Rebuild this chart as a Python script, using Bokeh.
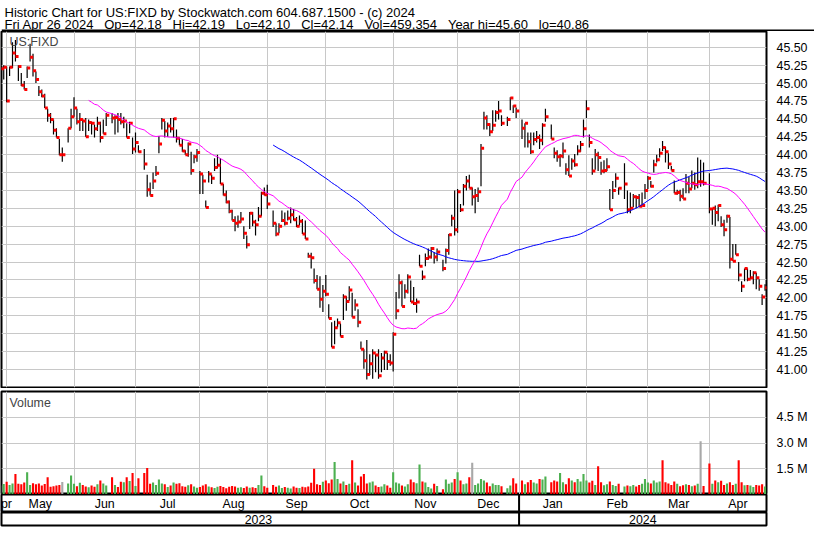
import numpy as np
import pandas as pd
from bokeh.plotting import figure
from bokeh.layouts import column
from bokeh.models import (Range1d, FixedTicker, Span, ColumnDataSource, Label,
                          PrintfTickFormatter, CustomJSTickFormatter)
from bokeh.core.properties import value
from bokeh.transform import dodge
from bokeh.embed import file_html
from bokeh.resources import INLINE

# ---------------------------------------------------------------- data
symbol = "US:FIXD"
axis_origin = "2023-04-26"
first_day = "2023-04-27"
last_day = "2024-04-26"
last_open = 42.18
market_holidays = ["2023-05-29", "2023-06-19", "2023-07-04", "2023-09-04",
                   "2023-11-23", "2023-12-25", "2024-01-01", "2024-01-15",
                   "2024-02-19", "2024-03-29"]

high_apr23 = [45.30, 45.25]
low_apr23 = [45.10, 45.05]
close_apr23 = [45.20, 45.22]

high_may23 = [45.23, 45.23, 45.57, 45.60, 45.25, 45.14, 45.03, 45.23, 45.55, 45.41, 45.16,
              44.96, 44.91, 44.85, 44.64, 44.58, 44.49, 44.37, 44.22, 44.10, 44.37, 44.64]
low_may23 = [44.73, 45.10, 45.21, 45.30, 45.03, 44.96, 44.91, 45.07, 45.30, 45.09, 45.00,
             44.82, 44.80, 44.65, 44.46, 44.44, 44.28, 44.24, 43.99, 43.90, 44.17, 44.37]
close_may23 = [44.75, 45.22, 45.42, 45.37, 45.23, 44.97, 44.91, 45.21, 45.36, 45.17, 45.05,
               44.88, 44.82, 44.65, 44.55, 44.49, 44.34, 44.24, 44.00, 44.00, 44.37, 44.53]

high_jun23 = [44.80, 44.64, 44.58, 44.49, 44.51, 44.49, 44.46, 44.42, 44.53, 44.46, 44.49,
              44.58, 44.58, 44.55, 44.58, 44.58, 44.53, 44.44, 44.46, 44.24, 44.31]
low_jun23 = [44.53, 44.42, 44.33, 44.33, 44.25, 44.33, 44.28, 44.24, 44.33, 44.17, 44.29,
             44.40, 44.44, 44.28, 44.31, 44.42, 44.37, 44.24, 44.30, 44.01, 44.03]
close_jun23 = [44.65, 44.46, 44.49, 44.47, 44.25, 44.45, 44.44, 44.36, 44.44, 44.24, 44.29,
               44.55, 44.51, 44.52, 44.49, 44.46, 44.47, 44.24, 44.44, 44.08, 44.17]

high_jul23 = [44.13, 44.08, 43.72, 43.61, 43.75, 43.84, 44.26, 44.51, 44.47, 44.45,
              44.51, 44.51, 44.35, 44.24, 44.22, 44.06, 44.17, 44.04, 44.00, 44.08]
low_jul23 = [44.03, 43.79, 43.41, 43.43, 43.52, 43.70, 44.02, 44.35, 44.24, 44.25,
             44.31, 44.24, 44.17, 44.13, 44.04, 44.00, 43.97, 43.72, 43.88, 43.90]
close_jul23 = [44.04, 43.87, 43.51, 43.43, 43.63, 43.74, 44.15, 44.48, 44.33, 44.40,
               44.36, 44.50, 44.23, 44.13, 44.05, 44.00, 44.15, 43.78, 43.97, 44.03]

high_aug23 = [43.77, 43.72, 43.36, 43.77, 43.72, 43.95, 44.00, 43.95, 43.59, 43.50, 43.36, 43.23,
              43.14, 43.15, 43.20, 43.00, 42.87, 43.20, 43.20, 43.09, 43.27, 43.48, 43.54]
low_aug23 = [43.45, 43.45, 43.26, 43.61, 43.59, 43.77, 43.81, 43.59, 43.43, 43.32, 43.18, 43.08,
             42.93, 42.98, 43.05, 42.82, 42.69, 42.96, 43.00, 42.87, 43.07, 43.14, 43.43]
close_aug23 = [43.73, 43.63, 43.26, 43.73, 43.67, 43.82, 43.85, 43.59, 43.44, 43.34, 43.21, 43.08,
               43.04, 43.06, 43.10, 42.90, 42.74, 43.18, 43.06, 43.02, 43.14, 43.46, 43.44]

high_sep23 = [43.58, 43.22, 43.04, 43.04, 43.22, 43.19, 43.22, 43.26, 43.24, 43.13,
              43.15, 43.10, 43.08, 42.63, 42.63, 42.41, 42.32, 42.30, 42.18, 42.32]
low_sep23 = [43.24, 42.99, 42.86, 42.90, 43.06, 43.01, 43.08, 43.04, 43.08, 42.99,
             43.01, 42.89, 42.82, 42.56, 42.41, 42.20, 42.12, 41.86, 41.80, 42.02]
close_sep23 = [43.31, 43.04, 42.89, 43.00, 43.08, 43.04, 43.11, 43.16, 43.09, 43.00,
               43.07, 42.89, 42.82, 42.58, 42.56, 42.24, 42.12, 41.98, 42.09, 42.05]

high_oct23 = [41.91, 41.66, 41.68, 41.71, 41.64, 42.05, 42.02, 42.16, 42.07, 41.98, 41.84,
              41.39, 41.28, 41.41, 41.21, 41.28, 41.21, 41.28, 41.23, 41.26, 41.23, 41.21]
low_oct23 = [41.71, 41.31, 41.35, 41.59, 41.46, 41.69, 41.82, 41.96, 41.73, 41.82, 41.59,
             41.28, 41.01, 40.86, 40.92, 40.87, 40.96, 40.87, 40.96, 40.99, 40.99, 41.05]
close_oct23 = [41.71, 41.31, 41.58, 41.65, 41.46, 42.01, 41.95, 42.11, 41.73, 41.90, 41.66,
               41.28, 41.12, 40.93, 41.08, 41.23, 41.20, 40.91, 41.16, 41.24, 41.11, 41.09]

high_nov23 = [41.52, 42.08, 42.33, 42.24, 42.19, 42.33, 42.24, 42.15, 41.99, 42.60, 42.38,
              42.62, 42.69, 42.71, 42.64, 42.69, 42.53, 42.69, 42.89, 43.16, 43.50]
low_nov23 = [40.97, 41.70, 41.99, 41.88, 41.99, 42.06, 41.94, 41.90, 41.79, 42.44, 42.25,
             42.44, 42.53, 42.55, 42.48, 42.51, 42.37, 42.48, 42.60, 43.00, 42.87]
close_nov23 = [41.49, 41.82, 42.21, 41.88, 42.09, 42.29, 41.94, 41.92, 41.94, 42.44, 42.29,
               42.55, 42.57, 42.69, 42.57, 42.64, 42.41, 42.66, 42.88, 43.11, 42.95]

high_dec23 = [43.52, 43.31, 43.59, 43.70, 43.72, 43.54, 43.52, 43.54, 44.15, 44.60,
              44.55, 44.44, 44.62, 44.62, 44.75, 44.55, 44.53, 44.80, 44.69, 44.66]
low_dec23 = [42.91, 43.20, 43.29, 43.50, 43.53, 43.29, 43.18, 43.34, 43.56, 44.35,
             44.35, 44.26, 44.33, 44.46, 44.49, 44.40, 44.40, 44.62, 44.58, 44.51]
close_dec23 = [43.48, 43.23, 43.56, 43.63, 43.53, 43.41, 43.43, 43.48, 44.09, 44.51,
               44.42, 44.32, 44.41, 44.59, 44.61, 44.44, 44.49, 44.79, 44.68, 44.61]

high_jan24 = [44.49, 44.44, 44.31, 44.31, 44.31, 44.33, 44.28, 44.44, 44.64, 44.42, 44.10,
              44.06, 44.01, 44.17, 43.88, 43.99, 43.95, 44.01, 44.13, 44.19, 44.49]
low_jan24 = [44.22, 44.10, 44.10, 44.01, 44.13, 44.17, 44.08, 44.13, 44.46, 44.22, 43.95,
             43.90, 43.83, 43.95, 43.72, 43.70, 43.79, 43.83, 43.99, 44.04, 44.24]
close_jan24 = [44.37, 44.44, 44.18, 44.04, 44.21, 44.24, 44.20, 44.41, 44.53, 44.22, 44.02,
               43.97, 43.98, 44.05, 43.79, 43.70, 43.91, 43.86, 44.05, 44.14, 44.36]

high_feb24 = [44.76, 44.28, 43.95, 44.08, 44.04, 43.90, 43.92, 43.95, 43.52, 43.63,
              43.74, 43.54, 43.88, 43.50, 43.47, 43.45, 43.43, 43.45, 43.47, 43.59]
low_feb24 = [44.51, 44.10, 43.72, 43.79, 43.77, 43.72, 43.74, 43.77, 43.23, 43.38,
             43.54, 43.44, 43.38, 43.18, 43.18, 43.27, 43.25, 43.27, 43.29, 43.38]
close_feb24 = [44.64, 44.17, 43.77, 44.00, 43.96, 43.77, 43.78, 43.83, 43.23, 43.50,
               43.67, 43.53, 43.59, 43.23, 43.25, 43.41, 43.40, 43.28, 43.29, 43.50]

high_mar24 = [43.70, 43.63, 43.93, 44.00, 44.09, 44.19, 44.11, 44.02, 43.84, 43.64,
              43.51, 43.51, 43.53, 43.73, 43.69, 43.78, 43.75, 43.96, 43.93, 43.89]
low_mar24 = [43.52, 43.54, 43.75, 43.89, 43.96, 44.05, 43.89, 43.80, 43.78, 43.46,
             43.44, 43.35, 43.38, 43.46, 43.46, 43.53, 43.51, 43.53, 43.55, 43.57]
close_mar24 = [43.67, 43.56, 43.86, 43.93, 44.02, 44.10, 44.04, 43.87, 43.78, 43.46,
               43.47, 43.42, 43.38, 43.60, 43.52, 43.60, 43.58, 43.62, 43.62, 43.60]

high_apr24 = [43.74, 43.25, 43.29, 43.30, 43.14, 43.09, 43.16, 43.13, 42.75, 42.75,
              42.50, 42.23, 42.41, 42.41, 42.39, 42.37, 42.35, 42.26, 42.05, 42.19]
low_apr24 = [43.18, 43.02, 43.00, 43.07, 42.99, 42.86, 43.05, 42.41, 42.51, 42.60,
             42.23, 42.08, 42.23, 42.23, 42.26, 42.19, 42.12, 42.10, 41.90, 42.10]
close_apr24 = [43.24, 43.25, 43.19, 43.29, 43.02, 42.95, 43.14, 42.54, 42.51, 42.60,
               42.32, 42.16, 42.41, 42.26, 42.28, 42.35, 42.28, 42.16, 42.01, 42.14]

# volume, thousands of shares
vol_apr23 = [520, 610]
vol_may23 = [750, 560, 640, 1200, 620, 590, 700, 1300, 560, 650, 600, 640, 520, 610, 1000,
             450, 480, 520, 560, 730, 640, 1100]
vol_jun23 = [620, 480, 690, 560, 470, 420, 530, 450, 600, 810, 640, 520, 1000, 560, 440,
             750, 720, 1000, 780, 1250, 500]
vol_jul23 = [950, 1250, 1550, 620, 700, 560, 880, 640, 590, 430, 520, 700, 620, 650, 480,
             450, 540, 600, 470, 390]
vol_aug23 = [440, 520, 600, 460, 420, 380, 450, 500, 430, 360, 450, 500, 470, 400, 420,
             380, 460, 390, 420, 380, 550, 1100, 480]
vol_sep23 = [400, 560, 450, 520, 380, 430, 400, 350, 470, 400, 380, 450, 420, 460, 680,
             1500, 600, 560, 740, 820]
vol_oct23 = [650, 880, 1900, 900, 640, 760, 560, 620, 2000, 700, 520, 1050, 1200, 640, 700,
             760, 520, 430, 460, 600, 520, 400]
vol_nov23 = [1300, 700, 640, 520, 460, 600, 880, 720, 650, 1750, 760, 700, 440, 350, 620,
             500, 300, 880, 620, 700, 900]
vol_dec23 = [1300, 820, 600, 640, 1000, 1850, 560, 640, 900, 820, 700, 480, 640, 560, 560,
             480, 360, 520, 950, 640]
vol_jan24 = [820, 600, 720, 840, 700, 640, 900, 880, 1050, 720, 820, 760, 1250, 720, 600,
             940, 820, 720, 900, 760, 1200]
vol_feb24 = [820, 700, 800, 560, 1650, 720, 540, 600, 760, 560, 500, 620, 460, 520, 480,
             560, 460, 560, 620, 900]
vol_mar24 = [700, 640, 820, 700, 760, 2000, 720, 640, 560, 760, 620, 480, 540, 600, 560,
             480, 520, 620, 3100, 500]
vol_apr24 = [1800, 620, 820, 720, 800, 560, 640, 720, 560, 620, 2000, 720, 540, 560, 520,
             440, 560, 520, 600, 459.354]

volume_color_exceptions = {"2023-12-08": "flat", "2024-03-08": "down"}

month_names = ["Apr", "May", "Jun", "Jul", "Aug", "Sep", "Oct", "Nov", "Dec",
               "Jan", "Feb", "Mar", "Apr"]
year_names = ["2023", "2024"]
price_ticks = [41.00, 41.25, 41.50, 41.75, 42.00, 42.25, 42.50, 42.75, 43.00, 43.25,
               43.50, 43.75, 44.00, 44.25, 44.50, 44.75, 45.00, 45.25, 45.50]
volume_ticks = [1.5e6, 3.0e6, 4.5e6]
ma_short, ma_long = 30, 90

# ---------------------------------------------------------------- assemble
months = ["apr23", "may23", "jun23", "jul23", "aug23", "sep23", "oct23", "nov23",
          "dec23", "jan24", "feb24", "mar24", "apr24"]
g = globals()
highs = sum([g["high_" + m] for m in months], [])
lows = sum([g["low_" + m] for m in months], [])
closes = sum([g["close_" + m] for m in months], [])
volumes = [v * 1000 for v in sum([g["vol_" + m] for m in months], [])]

dates = pd.bdate_range(first_day, last_day, freq="C", holidays=market_holidays)
assert len(dates) == len(closes) == len(highs) == len(lows) == len(volumes)
day64 = dates.values.astype("datetime64[D]")
origin = np.datetime64(axis_origin)
slots = np.busday_count(origin, day64)

cser = pd.Series(closes)
ma1 = cser.rolling(ma_short).mean()
ma2 = cser.rolling(ma_long).mean()

prev = cser.shift(1)
direction = np.where(cser > prev, "up", np.where(cser < prev, "down", "flat"))
for d, k in volume_color_exceptions.items():
    direction[list(dates.strftime("%Y-%m-%d")).index(d)] = k
vol_palette = {"up": "#4cb050", "down": "#ff0000", "flat": "#a8a8a8"}
vol_colors = [vol_palette[k] for k in direction]

src = ColumnDataSource(dict(slot=slots, high=highs, low=lows, close=closes,
                            vol=volumes, vcol=vol_colors, ma1=ma1, ma2=ma2))

month_starts = pd.date_range("2023-05-01", "2024-04-01", freq="MS")
grid_slots = [int(np.busday_count(origin, np.busday_offset(
    m.to_datetime64().astype("datetime64[D]"), 0, roll="backward"))) for m in month_starts]
jan_slot = grid_slots[[m.month for m in month_starts].index(1)]

# ---------------------------------------------------------------- layout
VIEW_START, VIEW_END = 1.24, 262.5
FW, RB, LB = 765, 48, 1
FONT = "Liberation Sans"
GRID = "#c8c8c8"

xr = Range1d(VIEW_START, VIEW_END)


def panel(h, yr, top=0, bottom=0, yaxis=None):
    f = figure(frame_width=FW, frame_height=h, x_range=xr, y_range=yr,
               output_backend="svg", toolbar_location=None,
               x_axis_location=None, y_axis_location=yaxis,
               min_border_left=LB, min_border_right=RB,
               min_border_top=top, min_border_bottom=bottom)
    f.outline_line_color = "black"
    f.outline_line_width = 2
    f.outline_line_alpha = 1
    f.background_fill_color = "white"
    f.border_fill_color = "white"
    return f


def style_axis(ax):
    ax.axis_line_color = None
    ax.major_tick_line_color = None
    ax.minor_tick_line_color = None
    ax.major_label_standoff = 4
    ax.major_label_text_font = FONT
    ax.major_label_text_font_size = "12.4px"
    ax.major_label_text_color = "black"


# header
head = figure(frame_width=LB + FW + RB, frame_height=31, x_range=Range1d(0, LB + FW + RB),
              y_range=Range1d(0, 31), output_backend="svg", toolbar_location=None,
              x_axis_location=None, y_axis_location=None, min_border=0)
head.outline_line_color = None
head.xgrid.visible = False
head.ygrid.visible = False
title1 = "Historic Chart for %s by Stockwatch.com 604.687.1500 - (c) %d" % (symbol, dates[-1].year)
sp = "\u00a0\u00a0\u00a0"
title2 = sp.join([dates[-1].strftime("%a %b %d %Y"),
                  "Op=%.2f" % last_open, "Hi=%.2f" % highs[-1], "Lo=%.2f" % lows[-1],
                  "Cl=%.2f" % closes[-1], "Vol={:,}".format(int(round(volumes[-1]))),
                  "Year hi=%.2f" % max(highs), "lo=%.2f" % min(lows)])
for txt, yy in ((title1, 19.4), (title2, 7.0)):
    head.add_layout(Label(x=3, y=yy, text=txt, text_font=FONT, text_font_size="13px",
                          text_color="black", text_baseline="alphabetic"))
head.add_layout(Span(location=1, dimension="width", line_color="black", line_width=2))

# price panel
price = panel(356, Range1d(40.747, 45.72), top=0, bottom=1, yaxis="right")
price.yaxis.ticker = FixedTicker(ticks=price_ticks)
price.yaxis.formatter = PrintfTickFormatter(format="%.2f")
style_axis(price.yaxis[0])
price.ygrid.grid_line_color = GRID
price.xgrid.ticker = FixedTicker(ticks=grid_slots)
price.xgrid.grid_line_color = GRID
price.segment(x0="slot", y0="low", x1="slot", y1="high", source=src,
              line_color="black", line_width=1.2)
price.scatter(x=dodge("slot", 0.55, range=xr), y="close", source=src, marker="square",
              size=3, fill_color="#ff0000", line_color=None)
price.line("slot", "ma2", source=src, line_color="#0000ff", line_width=1)
price.line("slot", "ma1", source=src, line_color="#ff00ff", line_width=1)
price.add_layout(Label(x=VIEW_START, y=45.72, x_offset=8, y_offset=-3, text=symbol,
                       text_font=FONT, text_font_size="12.4px", text_baseline="top"))

# volume panel
vol = panel(103, Range1d(0, 6.0e6), top=3, bottom=0, yaxis="right")
vol.yaxis.ticker = FixedTicker(ticks=volume_ticks)
vol.yaxis.formatter = CustomJSTickFormatter(code="return (tick/1e6).toFixed(1) + ' M';")
style_axis(vol.yaxis[0])
vol.ygrid.grid_line_color = GRID
vol.xgrid.ticker = FixedTicker(ticks=grid_slots)
vol.xgrid.grid_line_color = GRID
vol.vbar(x="slot", top="vol", width=0.72, source=src, fill_color="vcol",
         line_color=None)
vol.add_layout(Label(x=VIEW_START, y=6.0e6, x_offset=8, y_offset=-4, text="Volume",
                     text_font=FONT, text_font_size="12.4px", text_baseline="top"))

# month row
mon = panel(18, Range1d(0, 1))
mon.xgrid.visible = False
mon.ygrid.visible = False
edges = [0] + grid_slots + [VIEW_END]
mon_src = ColumnDataSource(dict(x=[(edges[i] + edges[i + 1]) / 2 for i in range(len(month_names))],
                                y=[0.5] * len(month_names), t=month_names))
mon.text(x="x", y="y", text="t", source=mon_src, text_align="center",
         text_baseline="middle", text_font=value(FONT), text_font_size="12.4px",
         text_color="black")
mon.add_layout(Span(location=jan_slot, dimension="height", line_color="black", line_width=2))

# year row
yr_row = panel(13, Range1d(0, 1), bottom=2)
yr_row.xgrid.visible = False
yr_row.ygrid.visible = False
yedges = [0, jan_slot, VIEW_END]
yr_src = ColumnDataSource(dict(x=[(yedges[i] + yedges[i + 1]) / 2 for i in range(2)],
                               y=[0.5, 0.5], t=year_names))
yr_row.text(x="x", y="y", text="t", source=yr_src, text_align="center",
            text_baseline="middle", text_font=value(FONT), text_font_size="12.4px",
            text_color="black")
yr_row.add_layout(Span(location=jan_slot, dimension="height", line_color="black", line_width=2))

layout = column(head, price, vol, mon, yr_row, spacing=0)
open("out.html", "w").write(file_html(layout, INLINE))
